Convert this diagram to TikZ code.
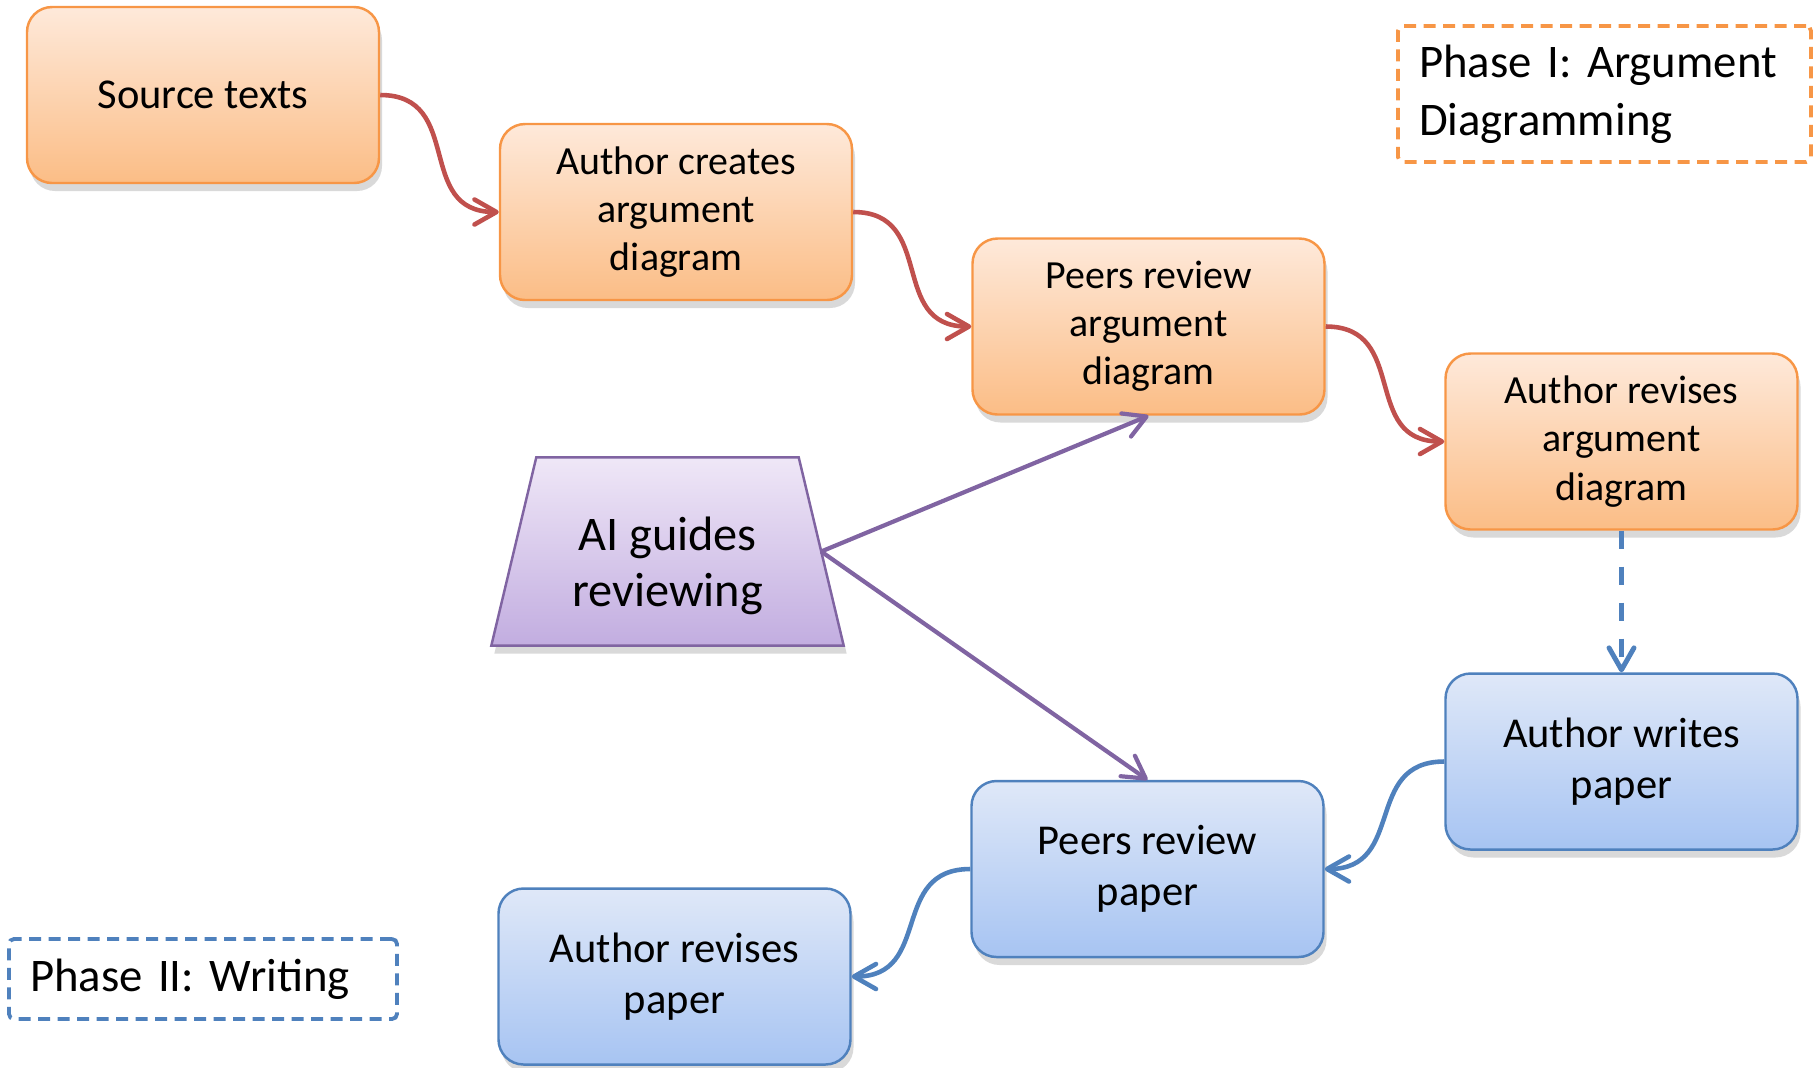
\documentclass[tikz,border=0pt]{standalone}
\usepackage{fontspec}
\setmainfont{Carlito}
\usetikzlibrary{arrows.meta,shadows}
\frenchspacing

\definecolor{orangeline}{HTML}{F79646}
\definecolor{orangetop}{HTML}{FEE9DA}
\definecolor{orangebot}{HTML}{FBBD86}
\definecolor{blueline}{HTML}{4F81BD}
\definecolor{bluetop}{HTML}{DFE8F8}
\definecolor{bluebot}{HTML}{A7C4F2}
\definecolor{purpleline}{HTML}{8064A2}
\definecolor{purpletop}{HTML}{EFE7F7}
\definecolor{purplebot}{HTML}{C2ADE0}
\definecolor{redline}{HTML}{C0504D}

\tikzset{
    softshadow/.style={drop shadow={shadow xshift=0.3mm, shadow yshift=-0.8mm, opacity=0.25, fill=black!60}},
    stepbox/.style={rectangle, rounded corners=0.25cm, minimum width=3.52cm, minimum height=1.76cm,
        align=center, line width=0.7pt, font=\fontsize{12.1pt}{14.6pt}\selectfont, softshadow},
    longtext/.style={font=\fontsize{11.35pt}{13.7pt}\selectfont},
    orangebox/.style={stepbox, draw=orangeline, top color=orangetop, bottom color=orangebot},
    bluebox/.style={stepbox, draw=blueline, top color=bluetop, bottom color=bluebot},
    phasebox/.style={rectangle, rounded corners=0.5mm, dash pattern=on 1.2mm off 0.75mm, line width=1.1pt,
        align=left, font=\fontsize{13.3pt}{16.5pt}\selectfont},
    flow/.style={-{Straight Barb[length=2.2mm,width=2.5mm,round]}, line width=1.3pt},
    curly/.style={out=0, in=180, looseness=1.3},
}

\begin{document}
\begin{tikzpicture}
    \useasboundingbox (0,0) rectangle (18.18,-10.67);

    % phase I
    \node[orangebox] (source) at (2.03,-0.95) {Source texts};
    \node[orangebox, longtext] (createarg) at (6.76,-2.12) {Author creates\\argument\\diagram};
    \node[orangebox, longtext] (reviewarg) at (11.485,-3.265) {Peers review\\argument\\diagram};
    \node[orangebox, longtext] (revisearg) at (16.215,-4.415) {Author revises\\argument\\diagram};

    % phase II
    \node[bluebox] (writepaper) at (16.215,-7.615) {Author writes\\paper};
    \node[bluebox] (reviewpaper) at (11.475,-8.69) {Peers review\\paper};
    \node[bluebox] (revisepaper) at (6.745,-9.765) {Author revises\\paper};

    % the AI
    \node[minimum width=3.51cm, minimum height=1.87cm, inner sep=0pt] (ai) at (6.675,-5.515) {};
    \draw[draw=purpleline, line width=0.7pt, top color=purpletop, bottom color=purplebot, softshadow]
        (ai.south west) -- ([xshift=0.45cm]ai.north west) -- ([xshift=-0.45cm]ai.north east)
        -- (ai.south east) -- cycle;
    \coordinate (aiedge) at ([xshift=-0.225cm]ai.east);
    \node[align=center, font=\fontsize{13.75pt}{16pt}\selectfont] (aitext) at ([yshift=-0.14cm]ai.center)
        {AI guides\\reviewing};

    % legends
    \node[phasebox, draw=orangeline, minimum width=4.13cm, minimum height=1.36cm, text width=3.71cm]
        (phaseone) at (16.045,-0.94) {Phase I: Argument\\Diagramming};
    \node[phasebox, draw=blueline, minimum width=3.88cm, minimum height=0.8cm, text width=3.46cm]
        (phasetwo) at (2.03,-9.79) {Phase II: Writing};

    % arrows
    \draw[flow, redline] (source.east) to[curly] (createarg.west);
    \draw[flow, redline] (createarg.east) to[curly] (reviewarg.west);
    \draw[flow, redline] (reviewarg.east) to[curly] (revisearg.west);
    \draw[flow, blueline, line width=1.4pt, dash pattern=on 1.8mm off 1.8mm] (revisearg.south) -- (writepaper.north);
    \draw[flow, blueline] (writepaper.west) to[curly, out=180, in=0] (reviewpaper.east);
    \draw[flow, blueline] (reviewpaper.west) to[curly, out=180, in=0] (revisepaper.east);
    \draw[flow, purpleline, line width=1.2pt] (aiedge) -- (reviewarg.south);
    \draw[flow, purpleline, line width=1.2pt] (aiedge) -- (reviewpaper.north);

\end{tikzpicture}
\end{document}
